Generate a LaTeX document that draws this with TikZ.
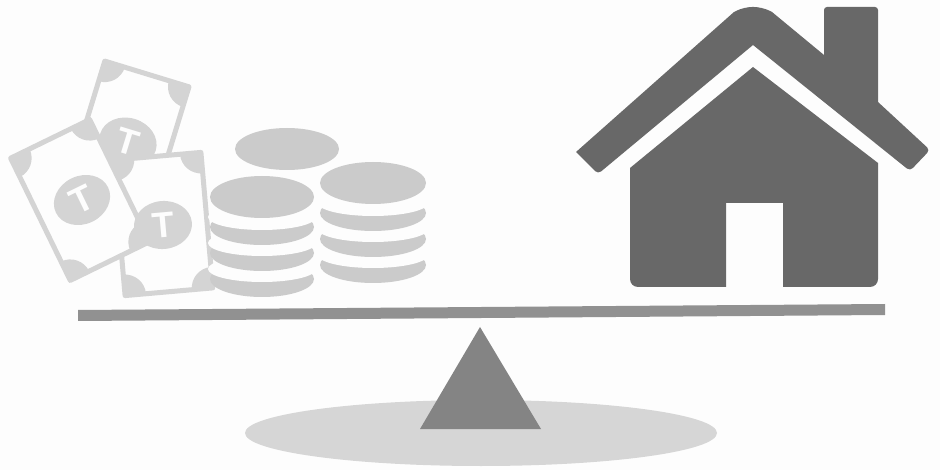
\documentclass[tikz,border=0pt]{standalone}
\usepackage{xcolor}
\usepackage{fontspec}
\setsansfont{Liberation Sans}
\usepackage{tikz}
\usetikzlibrary{positioning}
\definecolor{billc}{RGB}{212,212,212}
\definecolor{coinc}{RGB}{203,203,203}
\definecolor{housec}{RGB}{104,104,104}
\definecolor{barc}{RGB}{145,145,145}
\definecolor{wedgec}{RGB}{132,132,132}
\definecolor{groundc}{RGB}{214,214,214}
\definecolor{paperc}{RGB}{253,253,253}
\tikzset{
  coin/.style={fill=coinc,draw=none},
  gap/.style={fill=paperc,draw=none},
  bill/.pic={
    \path[fill=paperc] (-44,-68) rectangle (44,68);
    \begin{scope}
      \clip (-44,-68) rectangle (44,68);
      \foreach \sx in {-1,1}
        \foreach \sy in {-1,1}
          \fill[billc] (\sx*44,\sy*68) circle (21);
    \end{scope}
    \draw[billc,line width=5pt,line join=round] (-44,-68) rectangle (44,68);
  },
  medal/.pic={
    \fill[billc] (0,0) ellipse [x radius=29,y radius=24];
    \node[transform shape,text=paperc,font=\sffamily\bfseries,scale=3.6,inner sep=0pt] (-glyph) at (0,0) {T};
  },
}
\begin{document}
\begin{tikzpicture}[x=1pt,y=-1pt]
  \useasboundingbox (0,0) rectangle (940,470);
  \fill[paperc] (0,0) rectangle (940,470);
  % money
  \pic[rotate=-17] at (127,139) {bill};
  \pic (medala) [rotate=-17] at (128,142) {medal};
  \pic[rotate=5] at (163,224) {bill};
  \pic[rotate=26] at (80,200) {bill};
  \pic (medalb) [rotate=26] at (82,200) {medal};
  \pic (medalc) [rotate=5] at (163,225) {medal};
  % coins
  \fill[coin] (287,149) ellipse [x radius=52,y radius=21];
  \foreach \k in {3,2,1}{
    \fill[coin] (262,201+26*\k) ellipse [x radius=52,y radius=18];
    \fill[gap] (262,191+26*\k) ellipse [x radius=54,y radius=13];
  }
  \fill[coin] (262,197) ellipse [x radius=52,y radius=21];
  \foreach \k in {3,2,1}{
    \fill[coin] (373,187+26*\k) ellipse [x radius=53,y radius=18];
    \fill[gap] (373,177+26*\k) ellipse [x radius=55,y radius=13];
  }
  \fill[coin] (373,183) ellipse [x radius=53,y radius=21];
  % house
  \fill[housec,rounded corners=4pt] (576,152) -- (598,174) [sharp corners] -- (753,45) [rounded corners=4pt] -- (910,171) -- (930,150)
    [sharp corners] -- (878,102) [rounded corners=3pt] -- (878,7) -- (824,7) [sharp corners] -- (824,55)
    -- (772,12) [rounded corners=8pt] -- (762,7) -- (744,7) [sharp corners] -- (734,12) -- cycle;
  \fill[housec,sharp corners] (726,287) [rounded corners=8pt] -- (630,287) [sharp corners] -- (630,168) -- (753,67) -- (878,163)
    [rounded corners=8pt] -- (878,287) [sharp corners] -- (783,287) -- (783,203) -- (726,203) -- cycle;
  % balance
  \fill[barc] (78,310) -- (885,304) -- (885,315) -- (78,321) -- cycle;
  \fill[groundc] (481,433) ellipse [x radius=236,y radius=33];
  \fill[wedgec] (480,327) -- (541,429) -- (420,429) -- cycle;
\end{tikzpicture}
\end{document}
